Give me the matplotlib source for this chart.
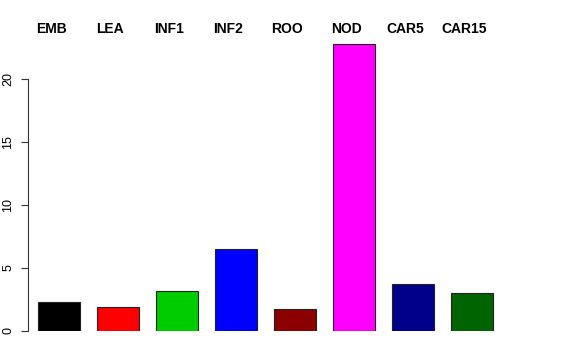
import matplotlib

matplotlib.use("Agg")
import matplotlib.pyplot as plt
import matplotlib.transforms as mtransforms
import numpy as np

plt.rcParams["font.family"] = ["Liberation Sans", "DejaVu Sans"]

tissues = ["EMB", "LEA", "INF1", "INF2", "ROO", "NOD", "CAR5", "CAR15"]
values = [2.3, 1.9, 3.2, 6.5, 1.75, 22.8, 3.7, 3.05]
colors = ["#000000", "#FF0000", "#00CD00", "#0000FF", "#8B0000", "#FF00FF", "#00008B", "#006400"]
y_ticks = [0, 5, 10, 15, 20]

fig = plt.figure(figsize=(5.76, 3.6), dpi=100)
ax = fig.add_axes([28 / 576, 29 / 360, 476 / 576, 291 / 360])

x = np.arange(len(tissues))
ax.bar(x, values, width=0.712, color=colors, edgecolor="#222222", linewidth=0.8)
ax.set_xlim(-0.525, 7.54)
ax.set_ylim(0, 291 / 12.6)

ax.spines["top"].set_visible(False)
ax.spines["right"].set_visible(False)
ax.spines["bottom"].set_visible(False)
ax.spines["left"].set_bounds(0, 20)
ax.spines["left"].set_color("#333333")
ax.set_xticks([])
ax.set_yticks(y_ticks)
ax.set_yticklabels([str(t) for t in y_ticks], rotation=90, va="center", fontsize=9)
ax.tick_params(axis="y", length=5, pad=5, color="#333333")

# tissue names across the top, a little left of each bar
trans = mtransforms.blended_transform_factory(ax.transData, fig.transFigure)
for i, name in enumerate(tissues):
    ax.text(i - 0.13, 1 - 29 / 360, name, transform=trans, ha="center", va="center",
            fontsize=10, fontweight="bold", clip_on=False)

fig.savefig("out.png", dpi=100)
